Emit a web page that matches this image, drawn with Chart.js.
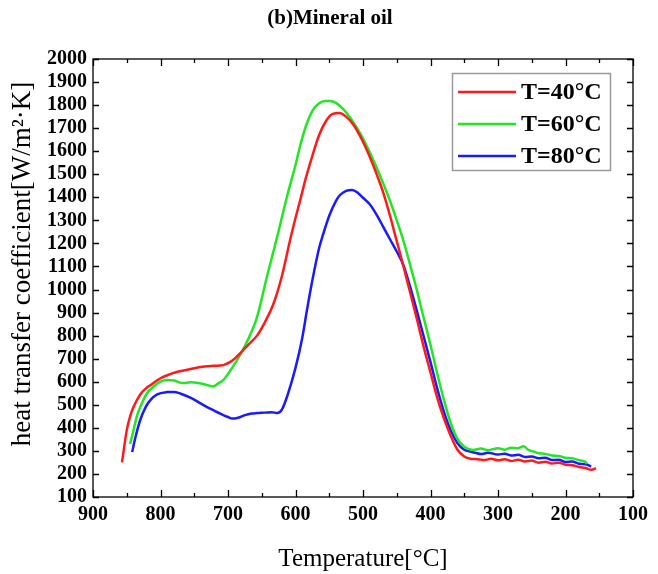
<!DOCTYPE html>
<html>
<head>
<meta charset="utf-8">
<script src="https://cdn.jsdelivr.net/npm/chart.js@4.4.1/dist/chart.umd.min.js"></script>
<style>
html,body{margin:0;padding:0;background:#fff;}
#wrap{width:658px;height:574px;}
</style>
</head>
<body>
<div id="wrap"><canvas id="c" width="658" height="574"></canvas></div>
<script>
// ---- data ----
const chartTitle = '(b)Mineral oil';
const seriesLabels = ['T=40°C', 'T=60°C', 'T=80°C'];
const xTickValues = [900, 800, 700, 600, 500, 400, 300, 200, 100];

const t40T = [857, 850, 845, 840, 830, 820, 815, 800, 790, 776, 760, 741, 720, 707, 697, 690, 680, 670, 657, 645, 633, 620, 608, 600, 593, 585, 575, 565, 555, 545, 535, 525, 515, 505, 495, 485, 470, 460, 450, 440, 430, 420, 410, 400, 390, 380, 370, 360, 350, 341, 330, 320, 310, 300, 290, 280, 270, 260, 250, 240, 230, 220, 210, 200, 190, 180, 170, 162, 157, 155];
const t40H = [250, 390, 450, 490, 545, 575, 585, 615, 628, 642, 652, 664, 669, 672, 685, 700, 730, 760, 800, 860, 935, 1060, 1215, 1310, 1388, 1480, 1580, 1670, 1730, 1762, 1766, 1750, 1718, 1670, 1610, 1540, 1420, 1320, 1210, 1100, 985, 870, 750, 640, 530, 440, 365, 305, 276, 266, 264, 260, 266, 259, 264, 256, 262, 254, 258, 249, 253, 245, 249, 240, 238, 230, 226, 218, 222, 226];

const t60T = [845, 842, 835, 830, 820, 811, 800, 790, 780, 767, 755, 740, 730, 722, 715, 707, 695, 682, 670, 657, 642, 627, 612, 600, 593, 585, 575, 565, 556, 549, 540, 530, 520, 510, 500, 490, 480, 470, 460, 450, 440, 430, 420, 413, 400, 390, 380, 370, 360, 350, 337, 325, 315, 300, 290, 280, 270, 262, 255, 248, 240, 230, 220, 210, 200, 190, 180, 172, 168];
const t60H = [330, 365, 450, 490, 550, 577, 600, 607, 605, 594, 598, 592, 585, 580, 592, 607, 655, 716, 785, 880, 1060, 1230, 1410, 1540, 1625, 1705, 1775, 1808, 1818, 1818, 1810, 1785, 1750, 1705, 1655, 1595, 1530, 1460, 1385, 1300, 1210, 1105, 995, 911, 760, 635, 520, 420, 352, 318, 304, 310, 303, 312, 305, 314, 312, 320, 304, 298, 290, 287, 280, 278, 270, 268, 260, 255, 245];

const t80T = [842, 837, 830, 822, 815, 805, 790, 780, 770, 755, 740, 731, 720, 710, 700, 694, 685, 675, 665, 657, 645, 635, 627, 620, 612, 600, 590, 583, 575, 565, 559, 550, 540, 534, 525, 516, 508, 500, 490, 480, 470, 460, 450, 440, 430, 420, 410, 400, 390, 380, 370, 360, 350, 340, 334, 325, 315, 300, 290, 280, 270, 260, 250, 240, 230, 220, 210, 200, 190, 180, 170, 162];
const t80H = [295, 360, 434, 490, 520, 545, 555, 556, 548, 530, 505, 490, 474, 460, 447, 440, 444, 455, 462, 464, 466, 468, 464, 480, 540, 660, 790, 911, 1040, 1180, 1240, 1320, 1385, 1410, 1428, 1432, 1420, 1398, 1370, 1325, 1272, 1218, 1165, 1105, 1010, 905, 795, 685, 570, 468, 388, 333, 305, 296, 292, 286, 292, 284, 288, 280, 283, 274, 276, 268, 270, 260, 262, 252, 254, 244, 242, 232];

const seriesColors = ['#ff1a1a', '#22e622', '#1a1aff'];

function pts(xs, ys){ return xs.map((v, i) => ({x: v, y: ys[i]})); }

const serif = '"Liberation Serif", "Times New Roman", serif';

const frame = {
  id: 'frame',
  afterDraw(chart){
    const {ctx, chartArea: a, scales: {x, y}} = chart;
    ctx.save();
    ctx.strokeStyle = '#000';
    ctx.lineWidth = 1.3;
    ctx.strokeRect(a.left, a.top, a.right - a.left, a.bottom - a.top);
    ctx.beginPath();
    for (let v = 100; v <= 900; v += 50){
      const px = Math.round(x.getPixelForValue(v)) + 0.5;
      const L = (v % 100 === 0) ? 7 : 4;
      ctx.moveTo(px, a.bottom); ctx.lineTo(px, a.bottom - L);
      ctx.moveTo(px, a.top); ctx.lineTo(px, a.top + L);
    }
    for (let v = 100; v <= 2000; v += 100){
      const py = Math.round(y.getPixelForValue(v)) + 0.5;
      ctx.moveTo(a.left, py); ctx.lineTo(a.left + 6, py);
      ctx.moveTo(a.right, py); ctx.lineTo(a.right - 6, py);
    }
    ctx.stroke();

    // chart title
    ctx.fillStyle = '#000';
    ctx.font = 'bold 21px ' + serif;
    ctx.textAlign = 'center';
    ctx.textBaseline = 'middle';
    ctx.fillText(chartTitle, 330, 19);

    // legend
    const bx = 452.5, by = 73.5, bw = 158, bh = 97;
    ctx.strokeStyle = '#9a9a9a';
    ctx.lineWidth = 1.5;
    ctx.strokeRect(bx, by, bw, bh);
    ctx.font = 'bold 24px ' + serif;
    ctx.textBaseline = 'middle';
    ctx.textAlign = 'left';
    chart.data.datasets.forEach((ds, i) => {
      const ly = 92 + i * 32;
      ctx.strokeStyle = ds.borderColor;
      ctx.lineWidth = 2.5;
      ctx.beginPath(); ctx.moveTo(458, ly); ctx.lineTo(516, ly); ctx.stroke();
      ctx.fillStyle = '#000';
      ctx.fillText(ds.label, 521, ly + 1);
    });

    // y axis title
    ctx.save();
    ctx.translate(23, 264);
    ctx.rotate(-Math.PI / 2);
    ctx.font = '27px ' + serif;
    ctx.textAlign = 'center';
    ctx.textBaseline = 'middle';
    ctx.fillStyle = '#000';
    ctx.fillText('heat transfer coefficient[W/m²·K]', 0, 0);
    ctx.restore();
    ctx.restore();
  }
};

new Chart(document.getElementById('c'), {
  type: 'line',
  data: {
    datasets: [
      {label: seriesLabels[0], data: pts(t40T, t40H), borderColor: seriesColors[0]},
      {label: seriesLabels[1], data: pts(t60T, t60H), borderColor: seriesColors[1]},
      {label: seriesLabels[2], data: pts(t80T, t80H), borderColor: seriesColors[2]}
    ].map(d => Object.assign(d, {borderWidth: 2.5, pointRadius: 0, cubicInterpolationMode: 'monotone', fill: false}))
  },
  options: {
    responsive: false,
    animation: false,
    layout: {padding: {left: 0, right: 25, top: 59, bottom: 0}},
    plugins: {
      legend: {display: false},
      tooltip: {enabled: false},
      title: {display: false}
    },
    scales: {
      x: {
        type: 'linear',
        reverse: true,
        min: 100, max: 900,
        afterFit(s){ s.height = 77; },
        afterBuildTicks(s){ s.ticks = xTickValues.map(v => ({value: v})); },
        grid: {display: false, drawTicks: false},
        border: {display: false},
        ticks: {color: '#000', padding: 6, maxRotation: 0, autoSkip: false, font: {family: serif, size: 20, weight: 'bold'}, callback: v => String(v)},
        title: {display: true, text: 'Temperature[°C]', color: '#000', font: {family: serif, size: 25}, padding: {top: 10, bottom: 0}}
      },
      y: {
        type: 'linear',
        min: 100, max: 2000,
        afterFit(s){ s.width = 93; },
        grid: {display: false, drawTicks: false},
        border: {display: false},
        ticks: {color: '#000', stepSize: 100, padding: 6, autoSkip: false, font: {family: serif, size: 20, weight: 'bold'}, callback: v => String(v)}
      }
    }
  },
  plugins: [frame]
});
</script>
</body>
</html>
